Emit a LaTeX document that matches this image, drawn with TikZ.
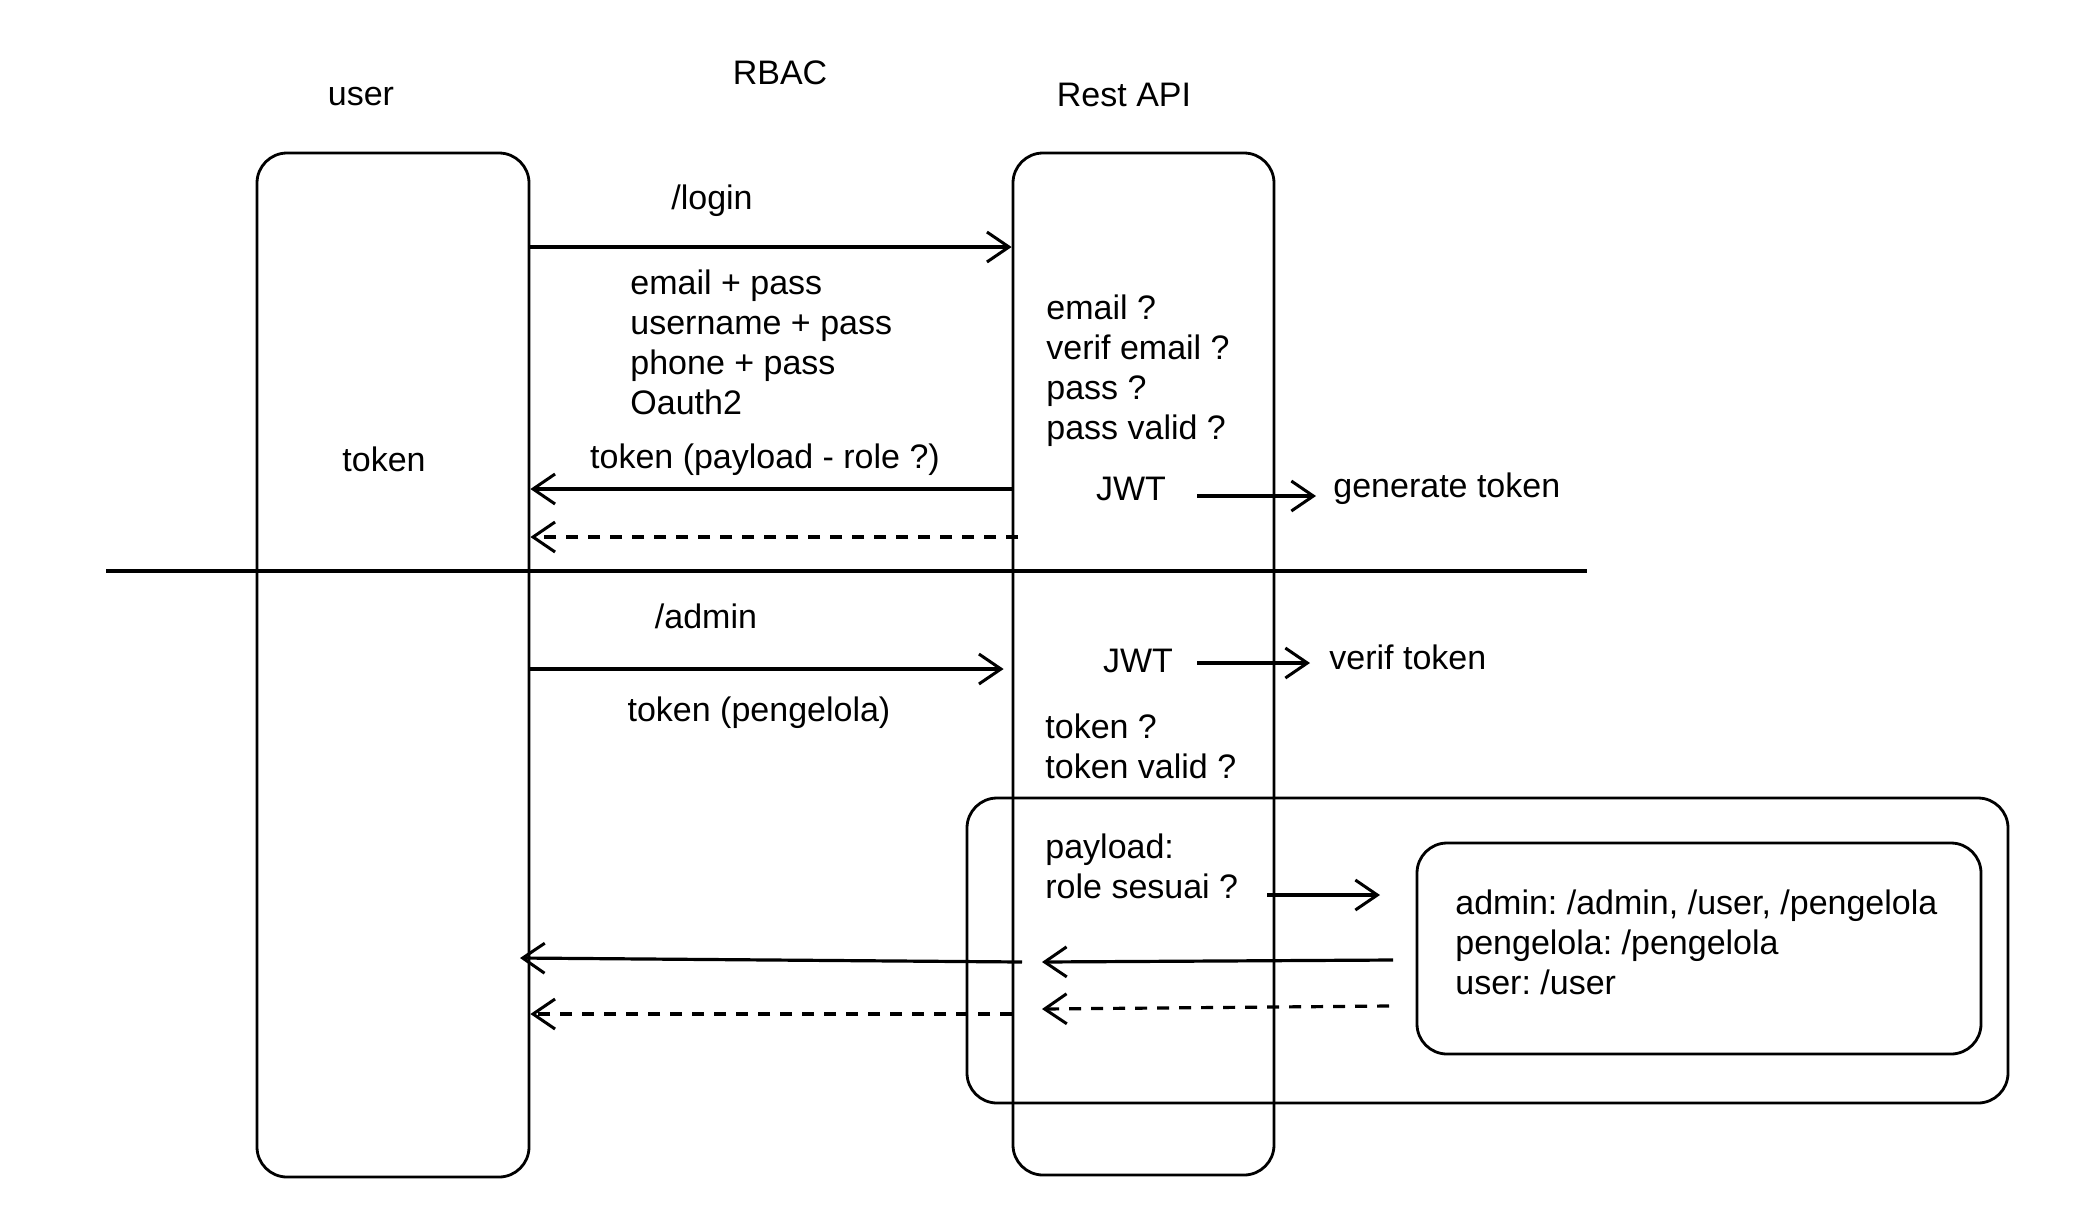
\documentclass[tikz,border=0pt]{standalone}
\usepackage{fontspec}
\setmainfont{Liberation Sans}
\usetikzlibrary{arrows.meta}
\frenchspacing
\begin{document}
\begin{tikzpicture}[x=0.5pt,y=-0.5pt,
  box/.style={draw, line width=1.4pt, rounded corners=15pt, inner sep=0pt},
  arr/.style={line width=1.6pt, -{Straight Barb[length=11pt,width=15pt,line width=1.5pt]}},
  darr/.style={arr, dash pattern=on 6pt off 5pt},
  lbl/.style={font=\fontsize{17}{20}\selectfont, inner sep=0pt},
  ]
\useasboundingbox[fill=white] (0,0) rectangle (2074,1212);

% boxes
\node[box, minimum width=136pt, minimum height=512pt] (userbox) at (393,665) {};
\node[box, minimum width=130.5pt, minimum height=511pt] (apibox) at (1143.5,664) {};
\node[box, minimum width=520.5pt, minimum height=152.5pt] (bigbox) at (1487.5,950.5) {};
\node[box, minimum width=282pt, minimum height=105.5pt] (rolebox) at (1699,948.5) {};

% separator
\coordinate (sepL) at (106,571);
\coordinate (sepR) at (1587,571);
\draw[line width=1.6pt] (sepL) -- (sepR);

% titles
\node[lbl] (tuser) at (361,97) {user};
\node[lbl] (trbac) at (780,73) {RBAC};
\node[lbl] (tapi) at (1124,95) {Rest API};

% texts
\node[lbl] (login) at (712,201) {/login};
\node[lbl, anchor=west, align=left] (creds) at (630,342) {email + pass\\username + pass\\phone + pass\\Oauth2};
\node[lbl] (tok) at (384,459) {token};
\node[lbl] (tokpay) at (765,460) {token (payload - role ?)};
\node[lbl, anchor=west, align=left] (checks) at (1046,371) {email ?\\verif email ?\\pass ?\\pass valid ?};
\node[lbl] (jwt1) at (1131,489) {JWT};
\node[lbl, anchor=west] (gen) at (1333,489) {generate token};
\node[lbl] (admin) at (706,616) {/admin};
\node[lbl] (tokpeng) at (759,713) {token (pengelola)};
\node[lbl] (jwt2) at (1138,661) {JWT};
\node[lbl, anchor=west] (verif) at (1329,657) {verif token};
\node[lbl, anchor=west, align=left] (tchk) at (1045,746) {token ?\\token valid ?};
\node[lbl, anchor=west, align=left] (pl) at (1045,866) {payload:\\role sesuai ?};
\node[lbl, anchor=west, align=left] (roles) at (1455,942) {admin: /admin, /user, /pengelola\\pengelola: /pengelola\\user: /user};

% row helpers
\coordinate (r1) at (0,247);
\coordinate (r2) at (0,489);
\coordinate (r3) at (0,537);
\coordinate (r4) at (0,669);

% login request / responses
\draw[arr] (userbox.east |- r1) -- (apibox.west |- r1);
\draw[arr] (apibox.west |- r2) -- (userbox.east |- r2);
\coordinate (d1s) at (1018,537);
\draw[darr] (d1s) -- (userbox.east |- r3);
\draw[arr] (userbox.east |- r4) -- ([xshift=-4pt]apibox.west |- r4);

% JWT arrows
\coordinate (j1s) at (1197,496);
\coordinate (j1e) at (1316,496);
\draw[arr] (j1s) -- (j1e);
\coordinate (j2s) at (1197,663);
\coordinate (j2e) at (1310,663);
\draw[arr] (j2s) -- (j2e);

% role check arrows
\coordinate (rs) at (1267,895);
\coordinate (re) at (1380,895);
\draw[arr] (rs) -- (re);
\coordinate (b1s) at (1393,960);
\coordinate (b1e) at (1042,962);
\draw[arr] (b1s) -- (b1e);
\coordinate (b2s) at (1022,962);
\coordinate (b2e) at (520,958);
\draw[arr] (b2s) -- (b2e);
\coordinate (b3s) at (1389,1006);
\coordinate (b3e) at (1042,1009);
\draw[darr] (b3s) -- (b3e);
\coordinate (b4s) at (1012,1014);
\draw[darr] (b4s) -- (userbox.east |- b4s);
\end{tikzpicture}
\end{document}
